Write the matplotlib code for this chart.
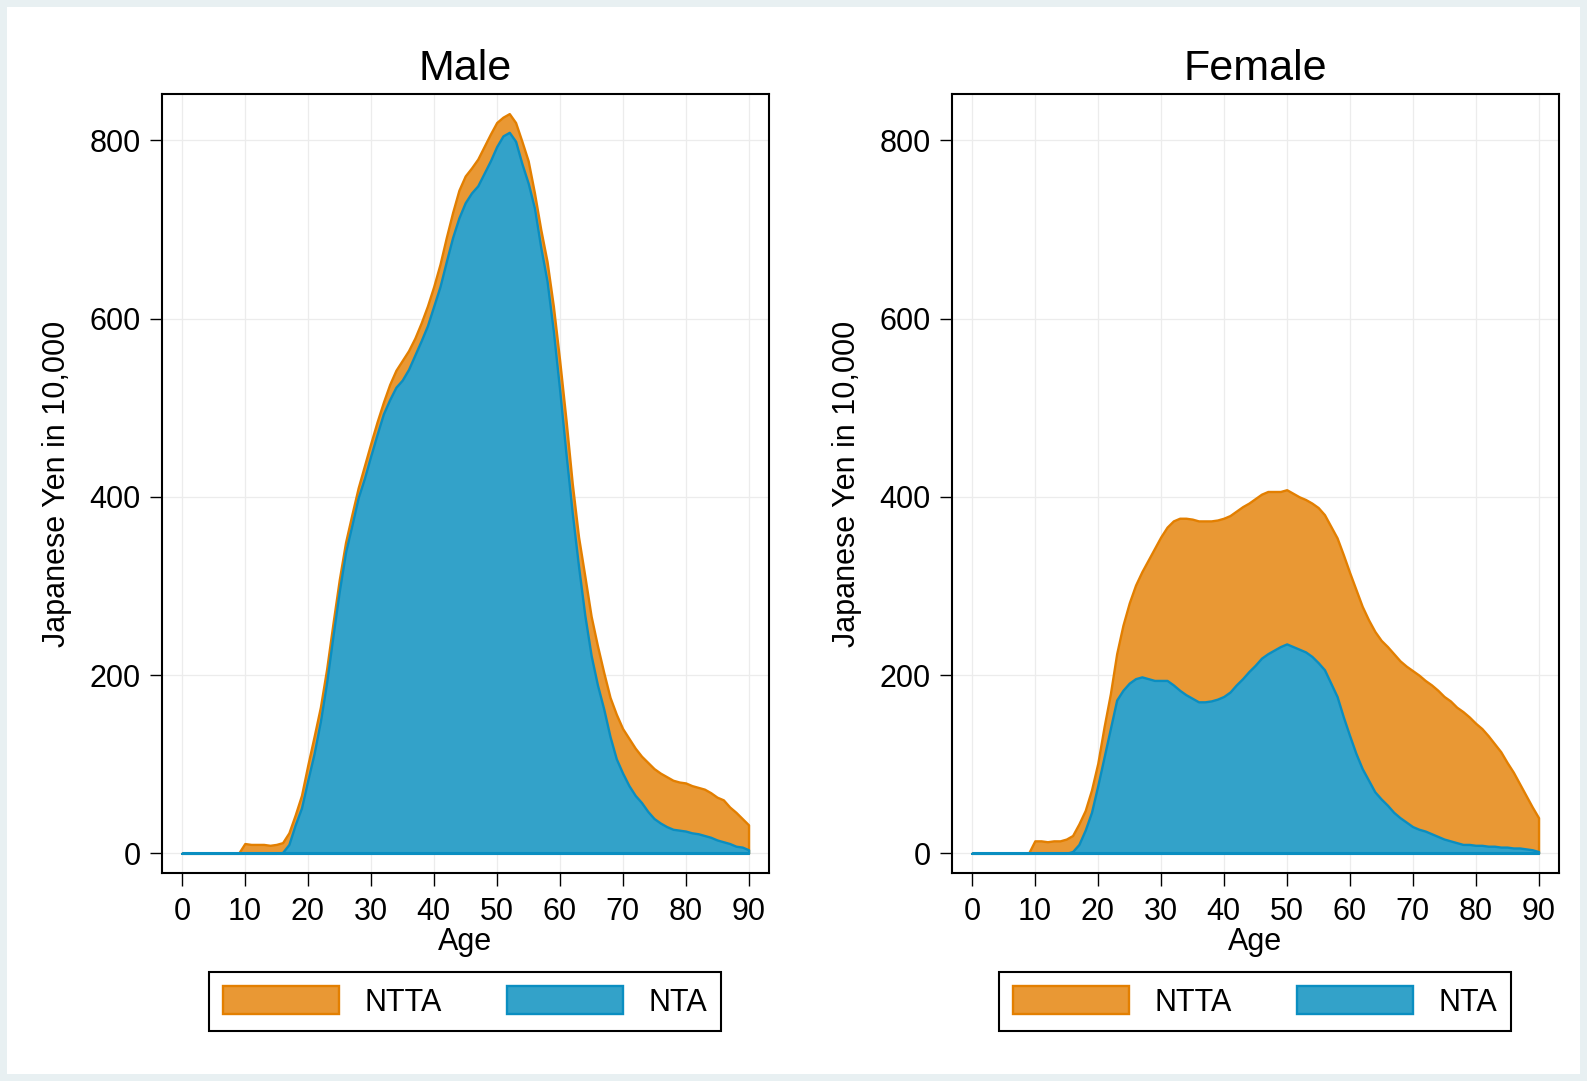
import matplotlib
matplotlib.use("Agg")
import matplotlib.pyplot as plt
from matplotlib.patches import Patch, Rectangle

# Age profiles, Japanese Yen in 10,000
ages = list(range(0, 91))

male_ntta = [
    0, 0, 0, 0, 0, 0, 0, 0, 0, 0,
    11, 10, 10, 10, 9, 10, 12, 23, 43, 65,
    99, 131, 164, 207, 258, 307, 349, 380, 410, 435,
    460, 484, 506, 526, 542, 553, 564, 578, 595, 614,
    636, 661, 691, 719, 744, 760, 769, 779, 793, 807,
    820, 826, 830, 820, 799, 777, 741, 700, 664, 614,
    553, 487, 415, 355, 311, 266, 233, 203, 175, 156,
    140, 129, 118, 109, 102, 95, 90, 86, 82, 80,
    79, 76, 74, 72, 68, 63, 60, 52, 46, 39,
    32,
]
male_nta = [
    0, 0, 0, 0, 0, 0, 0, 0, 0, 0,
    0, 0, 0, 0, 0, 0, 1, 10, 32, 51,
    82, 112, 148, 192, 244, 294, 338, 368, 399, 421,
    446, 470, 493, 509, 523, 531, 543, 559, 575, 592,
    614, 636, 664, 691, 713, 730, 741, 749, 763, 777,
    793, 805, 809, 799, 774, 752, 724, 680, 642, 586,
    520, 449, 382, 322, 267, 222, 189, 162, 131, 106,
    90, 76, 65, 57, 47, 39, 34, 30, 27, 26,
    25, 23, 22, 20, 18, 15, 13, 11, 8, 7,
    4,
]
female_ntta = [
    0, 0, 0, 0, 0, 0, 0, 0, 0, 0,
    14, 14, 13, 14, 14, 16, 20, 33, 48, 71,
    101, 142, 179, 224, 256, 281, 301, 316, 329, 342,
    355, 366, 373, 376, 376, 375, 373, 373, 373, 374,
    376, 379, 384, 389, 393, 398, 403, 406, 406, 406,
    408, 404, 400, 397, 393, 388, 380, 367, 354, 335,
    315, 296, 277, 262, 249, 239, 232, 224, 216, 210,
    205, 200, 194, 189, 183, 176, 171, 164, 159, 153,
    146, 140, 132, 123, 114, 102, 91, 78, 65, 52,
    40,
]
female_nta = [
    0, 0, 0, 0, 0, 0, 0, 0, 0, 0,
    0, 0, 0, 0, 0, 0, 2, 10, 26, 46,
    76, 108, 140, 172, 183, 191, 196, 198, 196, 194,
    194, 194, 189, 183, 178, 174, 170, 170, 171, 173,
    176, 181, 189, 196, 204, 211, 219, 224, 228, 232,
    235, 232, 229, 226, 221, 214, 206, 191, 176, 153,
    132, 112, 95, 82, 69, 61, 54, 46, 40, 35,
    30, 27, 25, 22, 19, 16, 14, 12, 10, 10,
    9, 9, 8, 8, 7, 7, 6, 6, 5, 4,
    2,
]

panels = ["Male", "Female"]
series_labels = ["NTTA", "NTA"]
x_ticks = list(range(0, 91, 10))
y_ticks = list(range(0, 801, 200))

ORANGE_FILL, ORANGE_EDGE = "#e99834", "#e37f00"
BLUE_FILL, BLUE_EDGE = "#33a2c9", "#0a8ec1"
BORDER = "#e8f0f2"

plt.rcParams["font.family"] = ["Liberation Sans", "DejaVu Sans"]

W, H = 1587, 1081
fig = plt.figure(figsize=(W / 100, H / 100), dpi=100)
fig.patch.set_facecolor(BORDER)
fig.add_artist(Rectangle((7 / W, 7 / H), (W - 14) / W, (H - 14) / H,
                         transform=fig.transFigure, facecolor="white",
                         edgecolor="none", zorder=-5))

ax_w = 607 / W
ax_b = (H - 873.3) / H
ax_h = 779.3 / H
lefts = [161.7 / W, 951.7 / W]

data = [(male_ntta, male_nta), (female_ntta, female_nta)]

for left, title, (ntta, nta) in zip(lefts, panels, data):
    ax = fig.add_axes([left, ax_b, ax_w, ax_h])
    ax.set_facecolor("white")
    ax.set_axisbelow(True)
    ax.grid(True, color="#ececec", linewidth=0.9)

    ax.fill_between(ages, 0, ntta, facecolor=ORANGE_FILL, edgecolor=ORANGE_EDGE,
                    linewidth=1.7, zorder=2)
    ax.fill_between(ages, 0, nta, facecolor=BLUE_FILL, edgecolor=BLUE_EDGE,
                    linewidth=1.7, zorder=3)
    ax.plot([ages[0], ages[-1]], [0, 0], color=BLUE_EDGE, linewidth=2.2,
            solid_capstyle="butt", zorder=4)

    ax.set_xlim(-3.2, 93.2)
    ax.set_ylim(-22.4, 852)
    ax.set_xticks(x_ticks)
    ax.set_yticks(y_ticks)
    ax.tick_params(axis="both", direction="out", length=9, width=1.0,
                   labelsize=22, colors="black")
    ax.tick_params(axis="x", pad=8)
    ax.tick_params(axis="y", pad=6)
    for sp in ax.spines.values():
        sp.set_linewidth(1.5)
        sp.set_color("black")

    ax.set_title(title, fontsize=31, pad=10)
    ax.set_xlabel("Age", fontsize=22)
    ax.set_ylabel("Japanese Yen in 10,000", fontsize=22)
    ax.xaxis.set_label_coords(0.5, -0.069)
    ax.yaxis.set_label_coords(-0.1485, 0.5)

    handles = [
        Patch(facecolor=ORANGE_FILL, edgecolor=ORANGE_EDGE, linewidth=1.7),
        Patch(facecolor=BLUE_FILL, edgecolor=BLUE_EDGE, linewidth=1.7),
    ]
    leg = ax.legend(handles, series_labels, loc="center",
                    bbox_to_anchor=(0.5, -0.1648), ncol=2, fontsize=22,
                    frameon=True, fancybox=False, shadow=False,
                    handlelength=3.8, handleheight=1.05, handletextpad=0.82,
                    columnspacing=2.15, borderpad=0.45, borderaxespad=0)
    leg.get_frame().set_edgecolor("black")
    leg.get_frame().set_linewidth(1.5)
    leg.get_frame().set_alpha(1)

fig.savefig("out.png", dpi=100, facecolor=fig.get_facecolor())
